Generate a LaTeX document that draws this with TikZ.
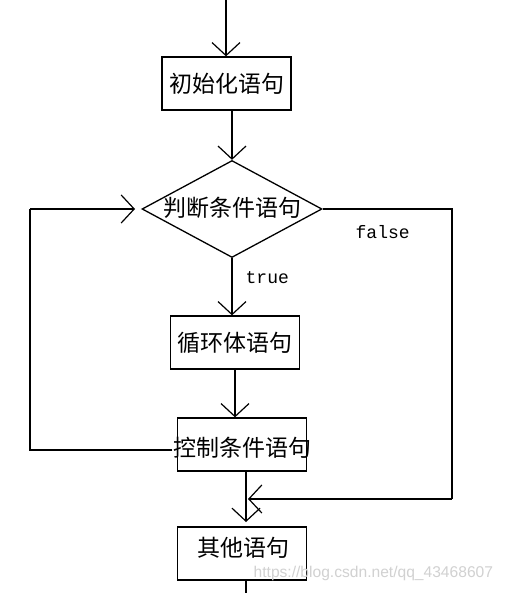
\documentclass[tikz,border=0pt]{standalone}
\usepackage{fontspec}
\setmainfont{Noto Sans CJK SC}
\newfontfamily\monofont{Liberation Mono}
\newfontfamily\wmfont{Liberation Sans}
\usetikzlibrary{shapes.geometric,arrows.meta}
\begin{document}
\begin{tikzpicture}[x=1pt,y=-1pt,
  line width=1.3pt,
  arr/.style={-{Straight Barb[length=13pt,width=28pt,line width=1.2pt]}},
  stmt/.style={draw,rectangle,minimum width=129pt,minimum height=53pt,inner sep=0pt,
    font=\fontsize{23}{23}\selectfont},
  cjk/.style={inner sep=0pt,font=\fontsize{23}{23}\selectfont},
  cond/.style={draw,diamond,minimum width=180pt,minimum height=97pt,inner sep=0pt},
  lbl/.style={inner sep=0pt,font=\monofont\fontsize{18}{18}\selectfont}
]
\useasboundingbox[fill=white] (0,0) rectangle (505,593);

\coordinate (start) at (226,0);
\node[stmt] (b1) at (226.5,83.5) {初始化语句};
\node[cond] (d) at (232,209) {};
\node[cjk] (dt) at (232,208) {判断条件语句};
\node[stmt] (b2) at (235,342.5) {循环体语句};
\node[stmt] (b3) at (242,444.5) {};
\node[cjk] (b3t) at (242,448) {控制条件语句};
\node[stmt] (b4) at (242,553.5) {};
\node[cjk] (b4t) at (243,548) {其他语句};

\coordinate (fr) at (452,209);
\coordinate (frb) at (452,499);
\coordinate (merge) at (248,499);
\coordinate (ll) at (30,450);
\coordinate (lt) at (30,209);
\coordinate (lin) at (135,209);
\coordinate (bottom) at (246,593);

\draw[arr] (start) -- (start |- b1.north);
\draw[arr] (d.north |- b1.south) -- (d.north);
\draw[arr] (d.south) -- (d.south |- b2.north);
\draw[arr] (b2.south) -- (b2.south |- b3.north);
\draw[arr] (246,471) -- (246,522);
\draw (b4.south -| bottom) -- (bottom);

\draw (d.east) -- (fr) -- (frb);
\draw[arr] (frb) -- (merge);
\node[lbl,anchor=west] (fl) at (355,232) {false};
\node[lbl,anchor=west] (tl) at (245,278) {true};

\draw (b3t.west |- ll) -- (ll) -- (lt);
\draw[arr] (lt) -- (lin);

\node[inner sep=0pt,anchor=west,text=black!18,font=\wmfont\fontsize{15.6}{15.6}\selectfont] (wm) at (253,573) {https://blog.csdn.net/qq\_43468607};
\end{tikzpicture}
\end{document}
